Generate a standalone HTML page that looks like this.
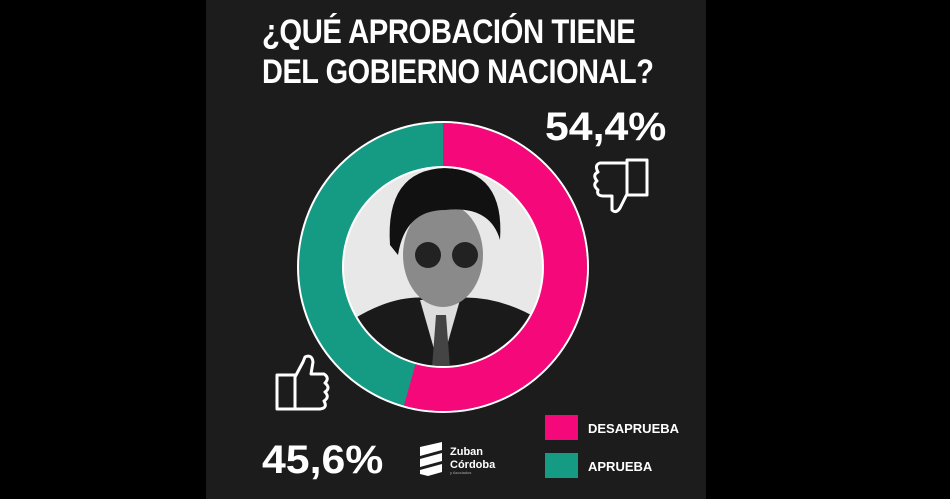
<!DOCTYPE html>
<html><head><meta charset="utf-8"><style>
html,body{margin:0;padding:0;background:#000;}
body{width:950px;height:499px;position:relative;overflow:hidden;font-family:"Liberation Sans",sans-serif;}
#panel{position:absolute;left:206px;top:0;width:500px;height:499px;background:#1c1c1c;}
.t{position:absolute;color:#fff;font-weight:bold;white-space:nowrap;transform-origin:0 0;}
</style></head><body>
<div id="panel"></div>
<div class="t" style="left:262px;top:14px;font-size:34px;line-height:36px;transform:scaleX(0.86);letter-spacing:-0.5px">¿QUÉ APROBACIÓN TIENE</div>
<div class="t" style="left:262px;top:54px;font-size:34px;line-height:36px;transform:scaleX(0.85);letter-spacing:-0.5px">DEL GOBIERNO NACIONAL?</div>
<div class="t" style="left:545px;top:106px;font-size:40px;line-height:42px;transform:scaleX(1.07)">54,4%</div>
<div class="t" style="left:262px;top:439px;font-size:40px;line-height:42px;transform:scaleX(1.07)">45,6%</div>
<svg width="950" height="499" style="position:absolute;left:0;top:0">
 <circle cx="443" cy="267" r="146" fill="#fff"/>
 <circle cx="443" cy="267" r="144" fill="#159b84"/>
 <path d="M443,123 A144,144 0 1 1 403.9,405.6 L415.8,363.2 A100,100 0 1 0 443,167 Z" fill="#f5087a"/>
 <circle cx="443" cy="267" r="101" fill="#fff"/>
 <circle cx="443" cy="267" r="99" fill="#e8e8e8"/>
 <clipPath id="c"><circle cx="443" cy="267" r="99"/></clipPath>
 <g clip-path="url(#c)">
  <path d="M345,366 L352,320 Q400,290 440,300 Q490,290 540,320 L545,366 Z" fill="#1a1a1a"/>
  <path d="M420,300 L440,370 L460,300 Z" fill="#ddd"/>
  <path d="M436,315 L446,315 L450,368 L432,368 Z" fill="#444"/>
  <ellipse cx="443" cy="255" rx="40" ry="52" fill="#8a8a8a"/>
  <path d="M390,245 Q385,170 445,168 Q505,170 500,240 Q490,205 445,210 Q405,210 398,255 Z" fill="#111"/>
  <circle cx="428" cy="255" r="13" fill="#222"/><circle cx="465" cy="255" r="13" fill="#222"/>
 </g>
 <g fill="none" stroke="#fff" stroke-width="3" stroke-linejoin="round">
  <rect x="627" y="160" width="20" height="35"/>
  <path d="M627,163 L600,163 Q594,165 598,172 Q592,175 597,181 Q592,185 598,190 Q596,196 604,196 L612,196 L612,210 Q616,214 620,208 L627,194"/>
 </g>
 <g fill="none" stroke="#fff" stroke-width="3" stroke-linejoin="round">
  <rect x="277" y="375" width="18" height="34"/>
  <path d="M295,377 L303,362 L305,357 Q312,354 313,362 L311,374 L324,374 Q330,378 325,383 Q331,388 325,392 Q330,397 324,401 Q328,408 320,409 L295,409"/>
 </g>
 <g fill="#fff">
  <path d="M420,447 L442,442 L442,450 L420,456 Z"/>
  <path d="M420,459 L442,453 L442,461 L420,467 Z"/>
  <path d="M420,470 L442,464 L442,472 L428,476 L420,474 Z"/>
 </g>
 <text x="450" y="455" fill="#fff" font-family="Liberation Sans" font-weight="bold" font-size="11">Zuban</text>
 <text x="450" y="468" fill="#fff" font-family="Liberation Sans" font-weight="bold" font-size="11">Córdoba</text>
 <text x="450" y="474" fill="#aaa" font-family="Liberation Sans" font-size="4">y Asociados</text>
 <rect x="545" y="415" width="33" height="25" fill="#f5087a"/>
 <rect x="545" y="453" width="33" height="25" fill="#159b84"/>
 <text x="588" y="433" fill="#fff" font-family="Liberation Sans" font-weight="bold" font-size="13">DESAPRUEBA</text>
 <text x="588" y="471" fill="#fff" font-family="Liberation Sans" font-weight="bold" font-size="13">APRUEBA</text>
</svg>
</body></html>
